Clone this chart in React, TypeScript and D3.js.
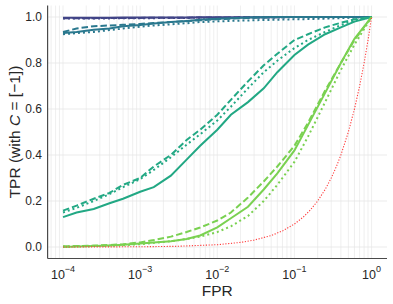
import * as d3 from 'd3';

// shared FPR grid (log-spaced)
const fpr = [1e-4, 1.5e-4, 2.5e-4, 4e-4, 6e-4, 1e-3, 1.5e-3, 2.5e-3, 4e-3, 6e-3, 1e-2,
  1.5e-2, 2.5e-2, 4e-2, 6e-2, 0.1, 0.15, 0.25, 0.4, 0.6, 1];

// TPR per model (colour) and variant (solid / dashed / dotted)
const darkSolid = [0.997, 0.997, 0.997, 0.997, 0.998, 0.998, 0.998, 0.998, 0.998, 0.999, 0.999,
  0.999, 0.999, 0.999, 1, 1, 1, 1, 1, 1, 1];
const darkDashed = [0.995, 0.995, 0.995, 0.996, 0.996, 0.996, 0.997, 0.997, 0.997, 0.998, 0.998,
  0.998, 0.999, 0.999, 0.999, 1, 1, 1, 1, 1, 1];
const darkDotted = [0.993, 0.993, 0.994, 0.994, 0.995, 0.995, 0.995, 0.996, 0.996, 0.997, 0.997,
  0.997, 0.998, 0.998, 0.998, 0.999, 0.999, 0.999, 1, 1, 1];

const tealSolid = [0.93, 0.935, 0.945, 0.95, 0.96, 0.965, 0.972, 0.978, 0.983, 0.988, 0.992,
  0.995, 0.998, 0.999, 1, 1, 1, 1, 1, 1, 1];
const tealDashed = [0.935, 0.95, 0.96, 0.963, 0.966, 0.97, 0.974, 0.978, 0.982, 0.986, 0.99,
  0.993, 0.996, 0.998, 0.999, 1, 1, 1, 1, 1, 1];
const tealDotted = [0.925, 0.93, 0.935, 0.943, 0.95, 0.958, 0.963, 0.968, 0.973, 0.978, 0.981,
  0.983, 0.985, 0.987, 0.988, 0.99, 0.991, 0.993, 0.995, 0.997, 1];

const greenSolid = [0.13, 0.15, 0.165, 0.19, 0.21, 0.24, 0.26, 0.31, 0.38, 0.44, 0.51,
  0.575, 0.63, 0.69, 0.76, 0.835, 0.88, 0.925, 0.955, 0.98, 1];
const greenDashed = [0.158, 0.18, 0.21, 0.235, 0.27, 0.30, 0.35, 0.40, 0.465, 0.51, 0.575,
  0.64, 0.72, 0.79, 0.84, 0.90, 0.925, 0.955, 0.975, 0.99, 1];
const greenDotted = [0.15, 0.17, 0.20, 0.23, 0.26, 0.295, 0.335, 0.39, 0.445, 0.49, 0.55,
  0.61, 0.69, 0.76, 0.81, 0.865, 0.90, 0.935, 0.965, 0.985, 1];

const limeSolid = [0.0, 0.002, 0.004, 0.006, 0.01, 0.015, 0.02, 0.025, 0.035, 0.05, 0.085,
  0.125, 0.175, 0.25, 0.32, 0.42, 0.53, 0.67, 0.80, 0.905, 1];
const limeDashed = [0.003, 0.004, 0.006, 0.009, 0.012, 0.02, 0.03, 0.045, 0.065, 0.085, 0.115,
  0.15, 0.215, 0.285, 0.35, 0.44, 0.54, 0.68, 0.80, 0.90, 1];
const limeDotted = [0.002, 0.003, 0.004, 0.006, 0.008, 0.012, 0.018, 0.025, 0.035, 0.045, 0.065,
  0.09, 0.135, 0.20, 0.27, 0.37, 0.48, 0.63, 0.77, 0.88, 1];

// random-guess reference (red dotted)
const chanceFpr = [1e-4, 1e-3, 3e-3, 1e-2, 2e-2, 3e-2, 5e-2, 0.07, 0.1, 0.13, 0.16, 0.2, 0.25,
  0.3, 0.35, 0.4, 0.5, 0.6, 0.7, 0.8, 0.9, 1];
const chanceTpr = [1e-4, 1e-3, 3e-3, 1e-2, 2e-2, 3e-2, 5e-2, 0.07, 0.1, 0.13, 0.16, 0.2, 0.25,
  0.3, 0.35, 0.4, 0.5, 0.6, 0.7, 0.8, 0.9, 1];

const palette = ['#414487', '#2a788e', '#22a884', '#7ad151'];
const dashes = ['none', '6.5,3', '2,3'];
const groups = [
  [darkSolid, darkDashed, darkDotted],
  [tealSolid, tealDashed, tealDotted],
  [greenSolid, greenDashed, greenDotted],
  [limeSolid, limeDashed, limeDotted],
];

const yTicks = [0, 0.2, 0.4, 0.6, 0.8, 1.0];
const xMajor = [1e-4, 1e-3, 1e-2, 1e-1, 1];
const xExp = ['\u22124', '\u22123', '\u22122', '\u22121', '0'];

const W = 393;
const H = 304;
const margin = { left: 47.6, right: 6, top: 5.5, bottom: 45.5 };
const font = '"Liberation Sans", Arial, sans-serif';

export default function App() {
  const x = d3.scaleLog()
    .domain([Math.pow(10, -4.2), Math.pow(10, 0.2)])
    .range([margin.left, W - margin.right]);
  const y = d3.scaleLinear()
    .domain([-0.05, 1.05])
    .range([H - margin.bottom, margin.top]);

  const line = d3.line<number>()
    .x((_, i) => x(fpr[i]))
    .y(d => y(d));
  const chanceLine = d3.line<number>()
    .x((_, i) => x(chanceFpr[i]))
    .y(d => y(d));

  const minor = x.ticks();
  const x0 = margin.left;
  const x1 = W - margin.right;
  const yb = H - margin.bottom;

  return (
    <svg width={W} height={H} style={{ position: 'absolute', left: 0, top: 0, background: '#fff' }}
      fontFamily={font}>
      {/* grid */}
      {minor.map((t, i) => (
        <line key={'gx' + i} x1={x(t)} x2={x(t)} y1={margin.top} y2={yb}
          stroke="#ebebeb" strokeWidth={0.8} />
      ))}
      {yTicks.map(t => (
        <line key={'gy' + t} x1={x0} x2={x1} y1={y(t)} y2={y(t)} stroke="#e6e6e6" strokeWidth={0.8} />
      ))}

      {/* model curves */}
      {groups.map((g, gi) => g.map((s, si) => (
        <path key={gi + '-' + si} d={line(s) || ''} fill="none" stroke={palette[gi]}
          strokeWidth={2} strokeDasharray={dashes[si]} />
      )))}
      <path d={chanceLine(chanceTpr) || ''} fill="none" stroke="#ff3b3b" strokeWidth={1.1}
        strokeDasharray="1.2,1.6" />

      {/* spines */}
      <line x1={x0} x2={x0} y1={margin.top} y2={yb} stroke="#4a4a4a" strokeWidth={1.2} />
      <line x1={x0} x2={x1} y1={yb} y2={yb} stroke="#4a4a4a" strokeWidth={1.2} />

      {/* y ticks */}
      {yTicks.map(t => (
        <text key={'ty' + t} x={42} y={y(t)} dy="0.36em" textAnchor="end" fontSize={12} fill="#262626">
          {t.toFixed(1)}
        </text>
      ))}
      {/* x ticks */}
      {xMajor.map((t, i) => (
        <text key={'tx' + i} x={x(t)} y={278.5} textAnchor="middle" fontSize={12.5} fill="#262626">
          10<tspan fontSize={9} dy={-6.5}>{xExp[i]}</tspan>
        </text>
      ))}

      <text x={(x0 + x1) / 2} y={296} textAnchor="middle" fontSize={15.5} fill="#262626">FPR</text>
      <text transform={`translate(19.5,${(margin.top + yb) / 2}) rotate(-90)`} textAnchor="middle"
        fontSize={15.5} fill="#262626">
        TPR (with <tspan fontStyle="italic">C</tspan> = [{'\u2212'}1])
      </text>
    </svg>
  );
}
